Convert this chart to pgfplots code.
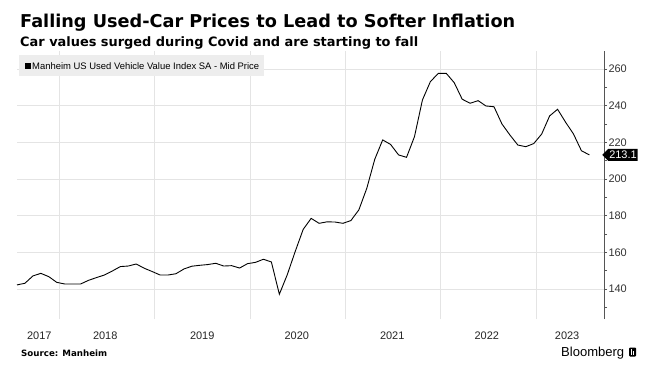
\documentclass[border=0pt]{standalone}
\usepackage{pgfplots}
\pgfplotsset{compat=1.18}
\usepackage{fontspec}
\setmainfont{Liberation Sans}
\newfontfamily\titlefont{DejaVu Sans}
\usetikzlibrary{shapes.symbols}
\definecolor{gridc}{HTML}{E4E4E4}
\definecolor{axc}{HTML}{555555}
\begin{document}
\begin{tikzpicture}[x=1bp,y=1bp]
\useasboundingbox (0,0) rectangle (659,370);
\fill[white] (0,0) rectangle (659,370);
\begin{axis}[
  at={(17bp,51bp)}, anchor=south west, scale only axis,
  width=587bp, height=268bp,
  xmin=7, xmax=80.84, ymin=123.6, ymax=269.8,
  axis x line*=bottom, axis y line*=right,
  x axis line style={draw=none},
  y axis line style={axc, line width=0.8bp},
  xtick={12.3,24.3,36.3,48.3,60.3,72.3}, xticklabels={},
  xtick style={draw=none},
  extra x ticks={9.8,18.1,30.3,42.2,54.2,66.1,76.2},
  extra x tick labels={2017,2018,2019,2020,2021,2022,2023},
  extra x tick style={grid=none, tick style={draw=none}},
  xticklabel style={font=\fontsize{11}{13}\selectfont, text=black!85, yshift=-6bp},
  ytick={140,160,180,200,220,240,260},
  minor ytick={130,150,170,190,210,230,250},
  tick align=outside, major tick length=3bp, minor tick length=3bp,
  ytick style={axc, line width=0.6bp},
  minor tick style={axc, line width=0.6bp},
  yticklabel style={font=\fontsize{11}{13}\selectfont, text=black!80, xshift=-2bp},
  /pgf/number format/assume math mode=true,
  xmajorgrids, ymajorgrids,
  grid style={gridc, line width=0.6bp},
  clip=false,
]
\addplot[black, line width=0.9bp] coordinates {
(7,142.2) (8,143.1) (9,147.1) (10,148.5) (11,146.7) (12,143.6) (13,142.7) (14,142.7)
(15,142.7) (16,144.7) (17,146.2) (18,147.6) (19,149.8) (20,152.2) (21,152.5) (22,153.6)
(23,151.3) (24,149.5) (25,147.6) (26,147.6) (27,148.3) (28,150.9) (29,152.4) (30,152.9)
(31,153.3) (32,154.0) (33,152.5) (34,152.7) (35,151.4) (36,153.8) (37,154.5) (38,156.2)
(39,154.7) (40,137.1) (41,147.8) (42,160.5) (43,172.5) (44,178.5) (45,175.8) (46,176.6)
(47,176.5) (48,175.8) (49,177.3) (50,183.1) (51,194.9) (52,210.7) (53,221.3) (54,218.8)
(55,213.1) (56,211.8) (57,223.1) (58,243.1) (59,253.1) (60,257.6) (61,257.6) (62,252.5)
(63,243.5) (64,241.3) (65,242.7) (66,239.8) (67,239.4) (68,230.0) (69,224.0) (70,218.5)
(71,217.6) (72,219.3) (73,224.5) (74,234.4) (75,238.0) (76,231.0) (77,224.5) (78,215.4)
(79,213.1)
};
\node[signal, signal to=west, fill=black, text=white, font=\fontsize{11}{12}\selectfont,
  inner xsep=1bp, inner ysep=0.5bp, minimum height=12bp, anchor=west]
  at (axis cs:80.84,213.1) [xshift=-2bp] {213.1};
\end{axis}
% titles
\node[anchor=base west, inner sep=0] at (20,343)
  {\resizebox{495bp}{!}{\titlefont\bfseries Falling Used-Car Prices to Lead to Softer Inflation}};
\node[anchor=base west, inner sep=0] at (20,324)
  {\resizebox{398bp}{!}{\titlefont\bfseries Car values surged during Covid and are starting to fall}};
% legend
\fill[black!7] (19,294) rectangle (264,315);
\fill[black] (25,301) rectangle (31,307);
\node[anchor=base west, inner sep=0] at (32,301)
  {\resizebox{227bp}{!}{\fontsize{9}{10}\selectfont Manheim US Used Vehicle Value Index SA - Mid Price}};
% source
\node[anchor=base west, inner sep=0] at (21,14)
  {\resizebox{86bp}{!}{\titlefont\bfseries Source: Manheim}};
% Bloomberg
\node[anchor=base west, inner sep=0] at (561,14)
  {\resizebox{63bp}{!}{\fontsize{13}{14}\selectfont Bloomberg}};
\fill[black, rounded corners=1bp] (629,13.5) rectangle (636,22.5);
\fill[white] (631,15) rectangle (631.8,21);
\fill[white] (633,15) rectangle (633.8,19.5);
\end{tikzpicture}
\end{document}
